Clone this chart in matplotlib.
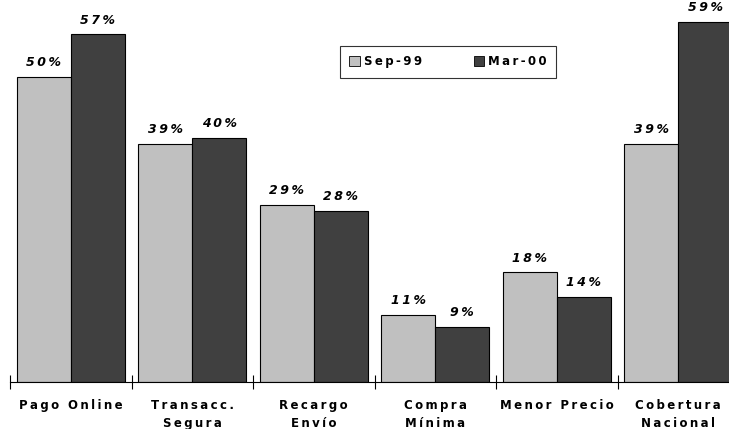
import numpy as np
import matplotlib.pyplot as plt
from matplotlib.patches import Patch

# Características valoradas por los usuarios
categorias = ["Pago Online", "Transacc.\nSegura", "Recargo\nEnvío",
              "Compra\nMínima", "Menor Precio", "Cobertura\nNacional"]
sep_99 = [50, 39, 29, 11, 18, 39]
mar_00 = [57, 40, 28, 9, 14, 59]
series = ["Sep-99", "Mar-00"]
colores = ["#c0c0c0", "#404040"]


def espaciado(texto):
    # separa los caracteres como en el gráfico original
    return "\n".join("\u2009".join(linea) for linea in texto.split("\n"))


fig = plt.figure(figsize=(7.29, 4.29), dpi=100)
ax = fig.add_axes([10 / 729, 47 / 429, 729 / 729, 382 / 429])

x = np.arange(len(categorias))
ancho = 0.445
b1 = ax.bar(x - ancho / 2, sep_99, ancho, color=colores[0], edgecolor="black", linewidth=0.8)
b2 = ax.bar(x + ancho / 2, mar_00, ancho, color=colores[1], edgecolor="black", linewidth=0.8)

for barras, valores in ((b1, sep_99), (b2, mar_00)):
    for barra, v in zip(barras, valores):
        ax.annotate(espaciado(f"{v}%"), (barra.get_x() + barra.get_width() / 2, v),
                    xytext=(0, 5.5), textcoords="offset points", ha="center", va="bottom",
                    fontsize=9, fontweight="bold", fontstyle="italic")

ax.set_xlim(-0.5, len(categorias) - 0.5)
ax.set_ylim(0, 62.6)

for lado in ("top", "right", "left"):
    ax.spines[lado].set_visible(False)
ax.spines["bottom"].set_linewidth(0.8)
ax.set_yticks([])

ax.set_xticks(x)
ax.set_xticklabels([espaciado(c) for c in categorias], fontsize=8.5, fontweight="bold",
                   linespacing=1.5)
ax.tick_params(axis="x", which="major", length=0, pad=12)
ax.set_xticks(np.arange(len(categorias)) - 0.5, minor=True)
ax.tick_params(axis="x", which="minor", direction="inout", length=10, width=0.8)

manejadores = [Patch(facecolor=c, edgecolor="black", linewidth=0.6) for c in colores]
leg = ax.legend(manejadores, [espaciado(s) for s in series], ncol=2,
                loc="upper left", bbox_to_anchor=(330 / 729, 1 - 46 / 382),
                borderaxespad=0,
                prop={"weight": "bold", "size": 8.5}, frameon=True, fancybox=False,
                handlelength=0.9, handleheight=0.9, handletextpad=0.3,
                columnspacing=4.4, borderpad=0.8)
leg.get_frame().set_edgecolor("black")
leg.get_frame().set_linewidth(0.8)

fig.savefig("out.png", dpi=100)
